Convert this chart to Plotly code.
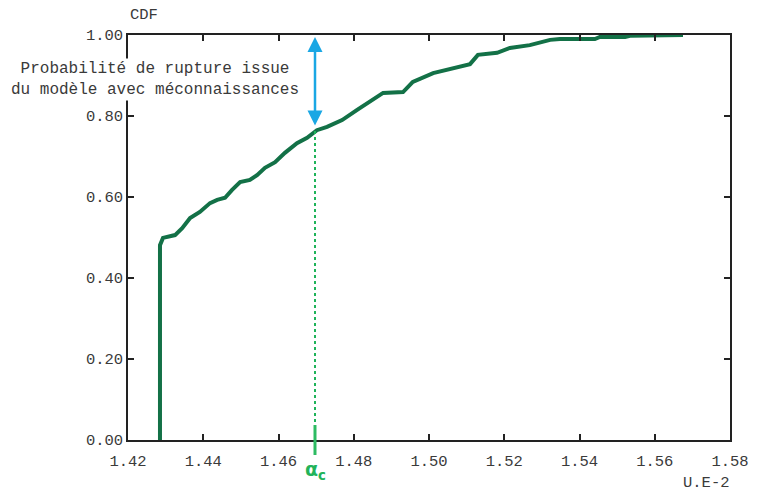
import plotly.graph_objects as go

cdf_x = [1.4285, 1.4285, 1.4293, 1.4325, 1.4344, 1.4365, 1.4391, 1.4418, 1.4437, 1.4458,
         1.4476, 1.4498, 1.4524, 1.4543, 1.4564, 1.4591, 1.4617, 1.4649, 1.4676, 1.4702,
         1.4729, 1.4769, 1.4809, 1.4843, 1.4878, 1.4931, 1.4957, 1.5011, 1.5064, 1.5109,
         1.5130, 1.5181, 1.5215, 1.5268, 1.5322, 1.5348, 1.5441, 1.5454, 1.5521, 1.5534,
         1.5675]
cdf_y = [0.000, 0.481, 0.499, 0.506, 0.523, 0.548, 0.563, 0.585, 0.593, 0.598,
         0.617, 0.637, 0.642, 0.654, 0.672, 0.686, 0.709, 0.733, 0.746, 0.765,
         0.773, 0.790, 0.815, 0.835, 0.857, 0.859, 0.884, 0.906, 0.919, 0.928,
         0.951, 0.956, 0.968, 0.975, 0.988, 0.990, 0.990, 0.995, 0.995, 0.998,
         1.000]

alpha_c = 1.4697
p_alpha = 0.765
arrow_low = 0.773
x_range = [1.42, 1.58]
y_range = [0.0, 1.0]
x_ticks = [1.42, 1.44, 1.46, 1.48, 1.50, 1.52, 1.54, 1.56, 1.58]
y_ticks = [0.0, 0.2, 0.4, 0.6, 0.8, 1.0]

mono = "Liberation Mono, Courier New, monospace"
txt_col = "#3a3a3a"

fig = go.Figure()
fig.add_trace(go.Scatter(x=cdf_x, y=cdf_y, mode="lines",
                         line=dict(color="#137147", width=4), showlegend=False,
                         hoverinfo="skip"))

ax_common = dict(showline=True, linecolor="#222222", linewidth=1.5, mirror="ticks",
                 ticks="inside", ticklen=6, tickcolor="#222222", tickwidth=1.5,
                 showgrid=False, zeroline=False, automargin=False,
                 tickfont=dict(family=mono, size=15.5, color=txt_col))

fig.update_layout(
    width=762, height=491,
    margin=dict(l=128, r=32, t=35, b=51, autoexpand=False),
    plot_bgcolor="white", paper_bgcolor="white",
    xaxis=dict(range=x_range, tickvals=x_ticks, tickformat=".2f",
               ticklabelstandoff=6, **ax_common),
    yaxis=dict(range=y_range, tickvals=y_ticks, tickformat=".2f", **ax_common),
)

# dotted line from axis to the curve at alpha_c
fig.add_shape(type="line", xref="x", yref="y", x0=alpha_c, x1=alpha_c, y0=0, y1=p_alpha,
              line=dict(color="#1fb35a", width=2, dash="dot"))
# solid tick across the x-axis at alpha_c
xp = (alpha_c - x_range[0]) / (x_range[1] - x_range[0])
fig.add_shape(type="line", xref="paper", yref="paper", x0=xp, x1=xp, y0=-0.037, y1=0.037,
              line=dict(color="#2dbb62", width=3))

# double arrow between curve and 1.0
fig.add_annotation(x=alpha_c, y=0.995, ax=alpha_c, ay=arrow_low,
                   xref="x", yref="y", axref="x", ayref="y", text="",
                   showarrow=True, arrowhead=2, startarrowhead=2, arrowside="end+start",
                   arrowsize=1.2, startarrowsize=1.2, arrowwidth=2.5, arrowcolor="#1aa7e4")

fig.add_annotation(x=0.045, y=0.889, xref="paper", yref="paper",
                   text="Probabilité de rupture issue<br>du modèle avec méconnaissances",
                   showarrow=False, align="center", xanchor="center", yanchor="middle",
                   font=dict(family=mono, size=16, color=txt_col), bgcolor="white")

fig.add_annotation(x=alpha_c, y=-0.11, xref="x", yref="paper",
                   text="<b>α<sub>c</sub></b>", showarrow=False,
                   font=dict(family="DejaVu Sans, Arial", size=19, color="#22b35a"))

fig.add_annotation(x=0.0, y=1.0, xref="paper", yref="paper", text="CDF",
                   showarrow=False, xanchor="left", yanchor="middle", yshift=20, xshift=0,
                   font=dict(family=mono, size=15.5, color=txt_col))
fig.add_annotation(x=1.0, y=0.0, xref="paper", yref="paper", text="U.E-2",
                   showarrow=False, xanchor="right", yanchor="middle", yshift=-43, xshift=2,
                   font=dict(family=mono, size=15.5, color=txt_col))

fig.write_html("out.html", config={"displayModeBar": False},
               post_script="document.body.style.margin='0';document.body.style.padding='0';document.body.style.overflow='hidden';")
